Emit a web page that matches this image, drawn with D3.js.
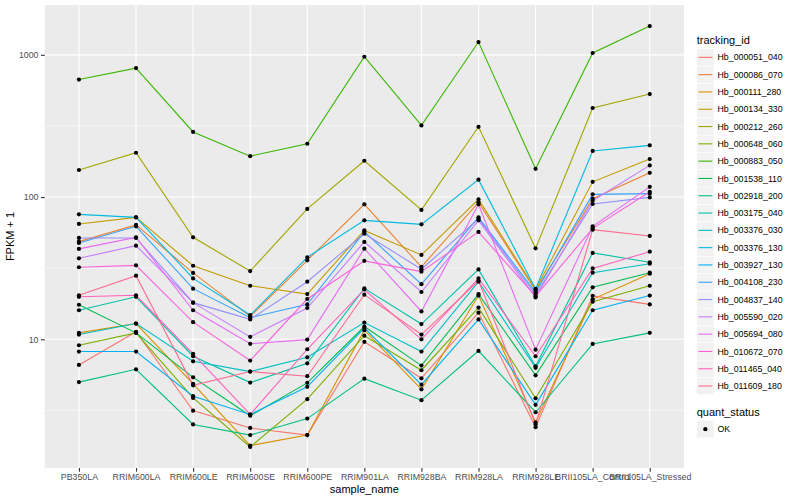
<!DOCTYPE html>
<html>
<head>
<meta charset="utf-8">
<script src="https://cdn.jsdelivr.net/npm/d3@7"></script>
<style>
  body { margin: 0; background: #fff; }
  svg text { font-family: "Liberation Sans", Arial, sans-serif; }
</style>
</head>
<body>
<div id="chart"></div>
<script>
// samples on the x axis
const samples = ["PB350LA", "RRIM600LA", "RRIM600LE", "RRIM600SE", "RRIM600PE", "RRIM901LA",
  "RRIM928BA", "RRIM928LA", "RRIM928LE", "BRII105LA_Control", "BRII105LA_Stressed"];

const trackingIds = ["Hb_000051_040", "Hb_000086_070", "Hb_000111_280", "Hb_000134_330", "Hb_000212_260",
  "Hb_000648_060", "Hb_000883_050", "Hb_001538_110", "Hb_002918_200", "Hb_003175_040", "Hb_003376_030",
  "Hb_003376_130", "Hb_003927_130", "Hb_004108_230", "Hb_004837_140", "Hb_005590_020", "Hb_005694_080",
  "Hb_010672_070", "Hb_011465_040", "Hb_011609_180"];

// FPKM + 1, one array per tracking id, in sample order
const hb_000051_040 = [6.6, 11.3, 3.15, 2.38, 2.12, 9.6, 5.32, 15.4, 2.41, 20.2, 17.6];
const hb_000086_070 = [48.6, 63.7, 29.3, 14.5, 35.9, 88.9, 32.3, 91.8, 22.0, 97.4, 148];
const hb_000111_280 = [11.1, 12.9, 4.86, 1.79, 2.12, 11.6, 4.45, 20.3, 2.61, 19.1, 28.9];
const hb_000134_330 = [64.7, 72.0, 32.9, 23.8, 20.8, 58.3, 39.2, 96.3, 22.4, 128, 185];
const hb_000212_260 = [155, 205, 52.1, 30.2, 82.5, 180, 81.2, 312, 43.6, 423, 530];
const hb_000648_060 = [9.08, 11.1, 3.87, 1.75, 3.79, 10.6, 6.06, 16.7, 3.85, 18.4, 23.8];
const hb_000883_050 = [670, 807, 287, 194, 237, 970, 319, 1230, 158, 1030, 1594];
const hb_001538_110 = [17.5, 11.1, 5.4, 2.9, 4.94, 12.3, 6.53, 20.8, 5.58, 23.2, 29.4];
const hb_002918_200 = [5.0, 6.15, 2.52, 2.12, 2.77, 5.29, 3.73, 8.29, 3.07, 9.28, 11.1];
const hb_003175_040 = [16.0, 19.9, 7.6, 4.96, 6.78, 22.8, 12.8, 31.0, 6.46, 40.5, 34.8];
const hb_003376_030 = [10.8, 12.9, 7.0, 5.93, 7.47, 13.1, 8.2, 25.4, 6.3, 29.4, 34.0];
const hb_003376_130 = [75.6, 72.0, 26.8, 14.8, 37.7, 68.6, 64.3, 132.5, 22.6, 211, 231];
const hb_003927_130 = [8.2, 8.2, 3.98, 2.96, 4.63, 12.0, 4.8, 13.8, 3.46, 16.0, 20.3];
const hb_004108_230 = [47.6, 62.3, 22.7, 14.2, 17.6, 56.9, 24.4, 72.0, 21.4, 104.5, 105.7];
const hb_004837_140 = [51.6, 51.6, 18.1, 13.8, 25.4, 55.3, 31.1, 70.2, 20.6, 89.4, 99.5];
const hb_005590_020 = [37.1, 45.5, 18.1, 10.4, 16.6, 48.4, 21.5, 68.6, 19.7, 94.3, 167];
const hb_005694_080 = [43.2, 52.1, 16.0, 9.3, 9.95, 43.4, 15.7, 88.9, 8.46, 62.3, 118];
const hb_010672_070 = [32.1, 33.1, 13.2, 7.09, 19.2, 35.6, 29.9, 56.9, 20.1, 60.3, 109];
const hb_011465_040 = [19.9, 20.4, 7.9, 2.96, 8.51, 22.4, 10.0, 26.8, 7.6, 31.5, 41.3];
const hb_011609_180 = [20.4, 28.0, 4.75, 5.93, 5.5, 20.6, 10.8, 25.8, 2.52, 59.0, 53.3];

const yTicks = [10, 100, 1000];
const yMinor = [Math.sqrt(10), Math.sqrt(1000), Math.sqrt(100000)];

const seriesValues = [hb_000051_040, hb_000086_070, hb_000111_280, hb_000134_330, hb_000212_260,
  hb_000648_060, hb_000883_050, hb_001538_110, hb_002918_200, hb_003175_040, hb_003376_030,
  hb_003376_130, hb_003927_130, hb_004108_230, hb_004837_140, hb_005590_020, hb_005694_080,
  hb_010672_070, hb_011465_040, hb_011609_180];

const series = trackingIds.map((id, i) => ({
  id: id,
  values: samples.map((s, j) => ({sample: s, value: seriesValues[i][j]}))
}));

// ggplot hue palette for 20 levels
const palette = ["#F8766D", "#EA8331", "#D89000", "#C09B00", "#A3A500", "#7CAE00", "#39B600",
  "#00BB4E", "#00BF7D", "#00C1A3", "#00BFC4", "#00BAE0", "#00B0F6", "#35A2FF", "#9590FF",
  "#C77CFF", "#E76BF3", "#FA62DB", "#FF62BC", "#FF6C90"];

const W = 800, H = 500;
const panel = {left: 44.7, right: 684, top: 5, bottom: 468};

const svg = d3.select("#chart").append("svg")
  .attr("width", W).attr("height", H);

svg.append("rect").attr("width", W).attr("height", H).attr("fill", "#fff");

const color = d3.scaleOrdinal().domain(trackingIds).range(palette);

const x = d3.scalePoint()
  .domain(samples)
  .range([panel.left, panel.right])
  .padding(0.6);

// log scale with 5% expansion in log space, like ggplot
const allVals = seriesValues.flat();
const lo = Math.log10(d3.min(allVals)), hi = Math.log10(d3.max(allVals));
const pad = (hi - lo) * 0.05;
const y = d3.scaleLog()
  .domain([Math.pow(10, lo - pad), Math.pow(10, hi + pad)])
  .range([panel.bottom, panel.top]);

// panel
svg.append("rect")
  .attr("x", panel.left).attr("y", panel.top)
  .attr("width", panel.right - panel.left).attr("height", panel.bottom - panel.top)
  .attr("fill", "#EBEBEB");

const grid = svg.append("g");
grid.selectAll(".minor")
  .data(yMinor.filter(d => d > y.domain()[0] && d < y.domain()[1]))
  .join("line")
    .attr("x1", panel.left).attr("x2", panel.right)
    .attr("y1", d => y(d)).attr("y2", d => y(d))
    .attr("stroke", "#fff").attr("stroke-width", 0.55);
grid.selectAll(".majorY")
  .data(yTicks)
  .join("line")
    .attr("x1", panel.left).attr("x2", panel.right)
    .attr("y1", d => y(d)).attr("y2", d => y(d))
    .attr("stroke", "#fff").attr("stroke-width", 1.1);
grid.selectAll(".majorX")
  .data(samples)
  .join("line")
    .attr("x1", d => x(d)).attr("x2", d => x(d))
    .attr("y1", panel.top).attr("y2", panel.bottom)
    .attr("stroke", "#fff").attr("stroke-width", 1.1);

// lines
const line = d3.line()
  .x(d => x(d.sample))
  .y(d => y(d.value));

svg.append("g")
  .selectAll("path")
  .data(series)
  .join("path")
    .attr("d", d => line(d.values))
    .attr("fill", "none")
    .attr("stroke", d => color(d.id))
    .attr("stroke-width", 1.1);

// points
svg.append("g")
  .selectAll("circle")
  .data(series.flatMap(d => d.values))
  .join("circle")
    .attr("cx", d => x(d.sample))
    .attr("cy", d => y(d.value))
    .attr("r", 2.1)
    .attr("fill", "#000");

// axes
const xAxis = d3.axisBottom(x).tickSize(3.7).tickPadding(2.5);
const xAxisG = svg.append("g")
  .attr("transform", "translate(0," + panel.bottom + ")")
  .call(xAxis);
const yAxis = d3.axisLeft(y).tickValues(yTicks).tickFormat(d3.format("d")).tickSize(3.7).tickPadding(2.5);
const yAxisG = svg.append("g")
  .attr("transform", "translate(" + panel.left + ",0)")
  .call(yAxis);

[xAxisG, yAxisG].forEach(g => {
  g.select(".domain").remove();
  g.selectAll(".tick line").attr("stroke", "#333").attr("stroke-width", 1.1);
  g.selectAll(".tick text").attr("fill", "#4D4D4D").style("font-size", "8.8px")
    .style("font-family", "'Liberation Sans', Arial, sans-serif");
});

svg.append("text")
  .attr("x", (panel.left + panel.right) / 2)
  .attr("y", 493)
  .attr("text-anchor", "middle")
  .style("font-size", "11px")
  .text("sample_name");

svg.append("text")
  .attr("transform", "translate(14," + ((panel.top + panel.bottom) / 2) + ") rotate(-90)")
  .attr("text-anchor", "middle")
  .style("font-size", "11px")
  .text("FPKM + 1");

// legend: tracking_id
const legX = 696.7, keyW = 17.3, keyH = 17.3, legTop = 48.7;
const legend = svg.append("g");
legend.append("text")
  .attr("x", legX).attr("y", 44)
  .style("font-size", "11px")
  .text("tracking_id");

const items = legend.selectAll(".item")
  .data(trackingIds)
  .join("g")
    .attr("class", "item")
    .attr("transform", (d, i) => "translate(" + legX + "," + (legTop + i * keyH) + ")");
items.append("rect")
  .attr("width", keyW).attr("height", keyH)
  .attr("fill", "#F2F2F2").attr("stroke", "#fff").attr("stroke-width", 0.5);
items.append("line")
  .attr("x1", 1.7).attr("x2", keyW - 1.7)
  .attr("y1", keyH / 2).attr("y2", keyH / 2)
  .attr("stroke", d => color(d)).attr("stroke-width", 1.1);
items.append("text")
  .attr("x", keyW + 3.5).attr("y", keyH / 2)
  .attr("dy", "0.35em")
  .style("font-size", "8.8px")
  .text(d => d);

// legend: quant_status
const qTop = 420.5;
legend.append("text")
  .attr("x", legX).attr("y", 416)
  .style("font-size", "11px")
  .text("quant_status");
const q = legend.append("g").attr("transform", "translate(" + legX + "," + qTop + ")");
q.append("rect")
  .attr("width", keyW).attr("height", keyH)
  .attr("fill", "#F2F2F2").attr("stroke", "#fff").attr("stroke-width", 0.5);
q.append("circle")
  .attr("cx", keyW / 2).attr("cy", keyH / 2).attr("r", 2.1).attr("fill", "#000");
q.append("text")
  .attr("x", keyW + 3.5).attr("y", keyH / 2).attr("dy", "0.35em")
  .style("font-size", "8.8px")
  .text("OK");
</script>
</body>
</html>
